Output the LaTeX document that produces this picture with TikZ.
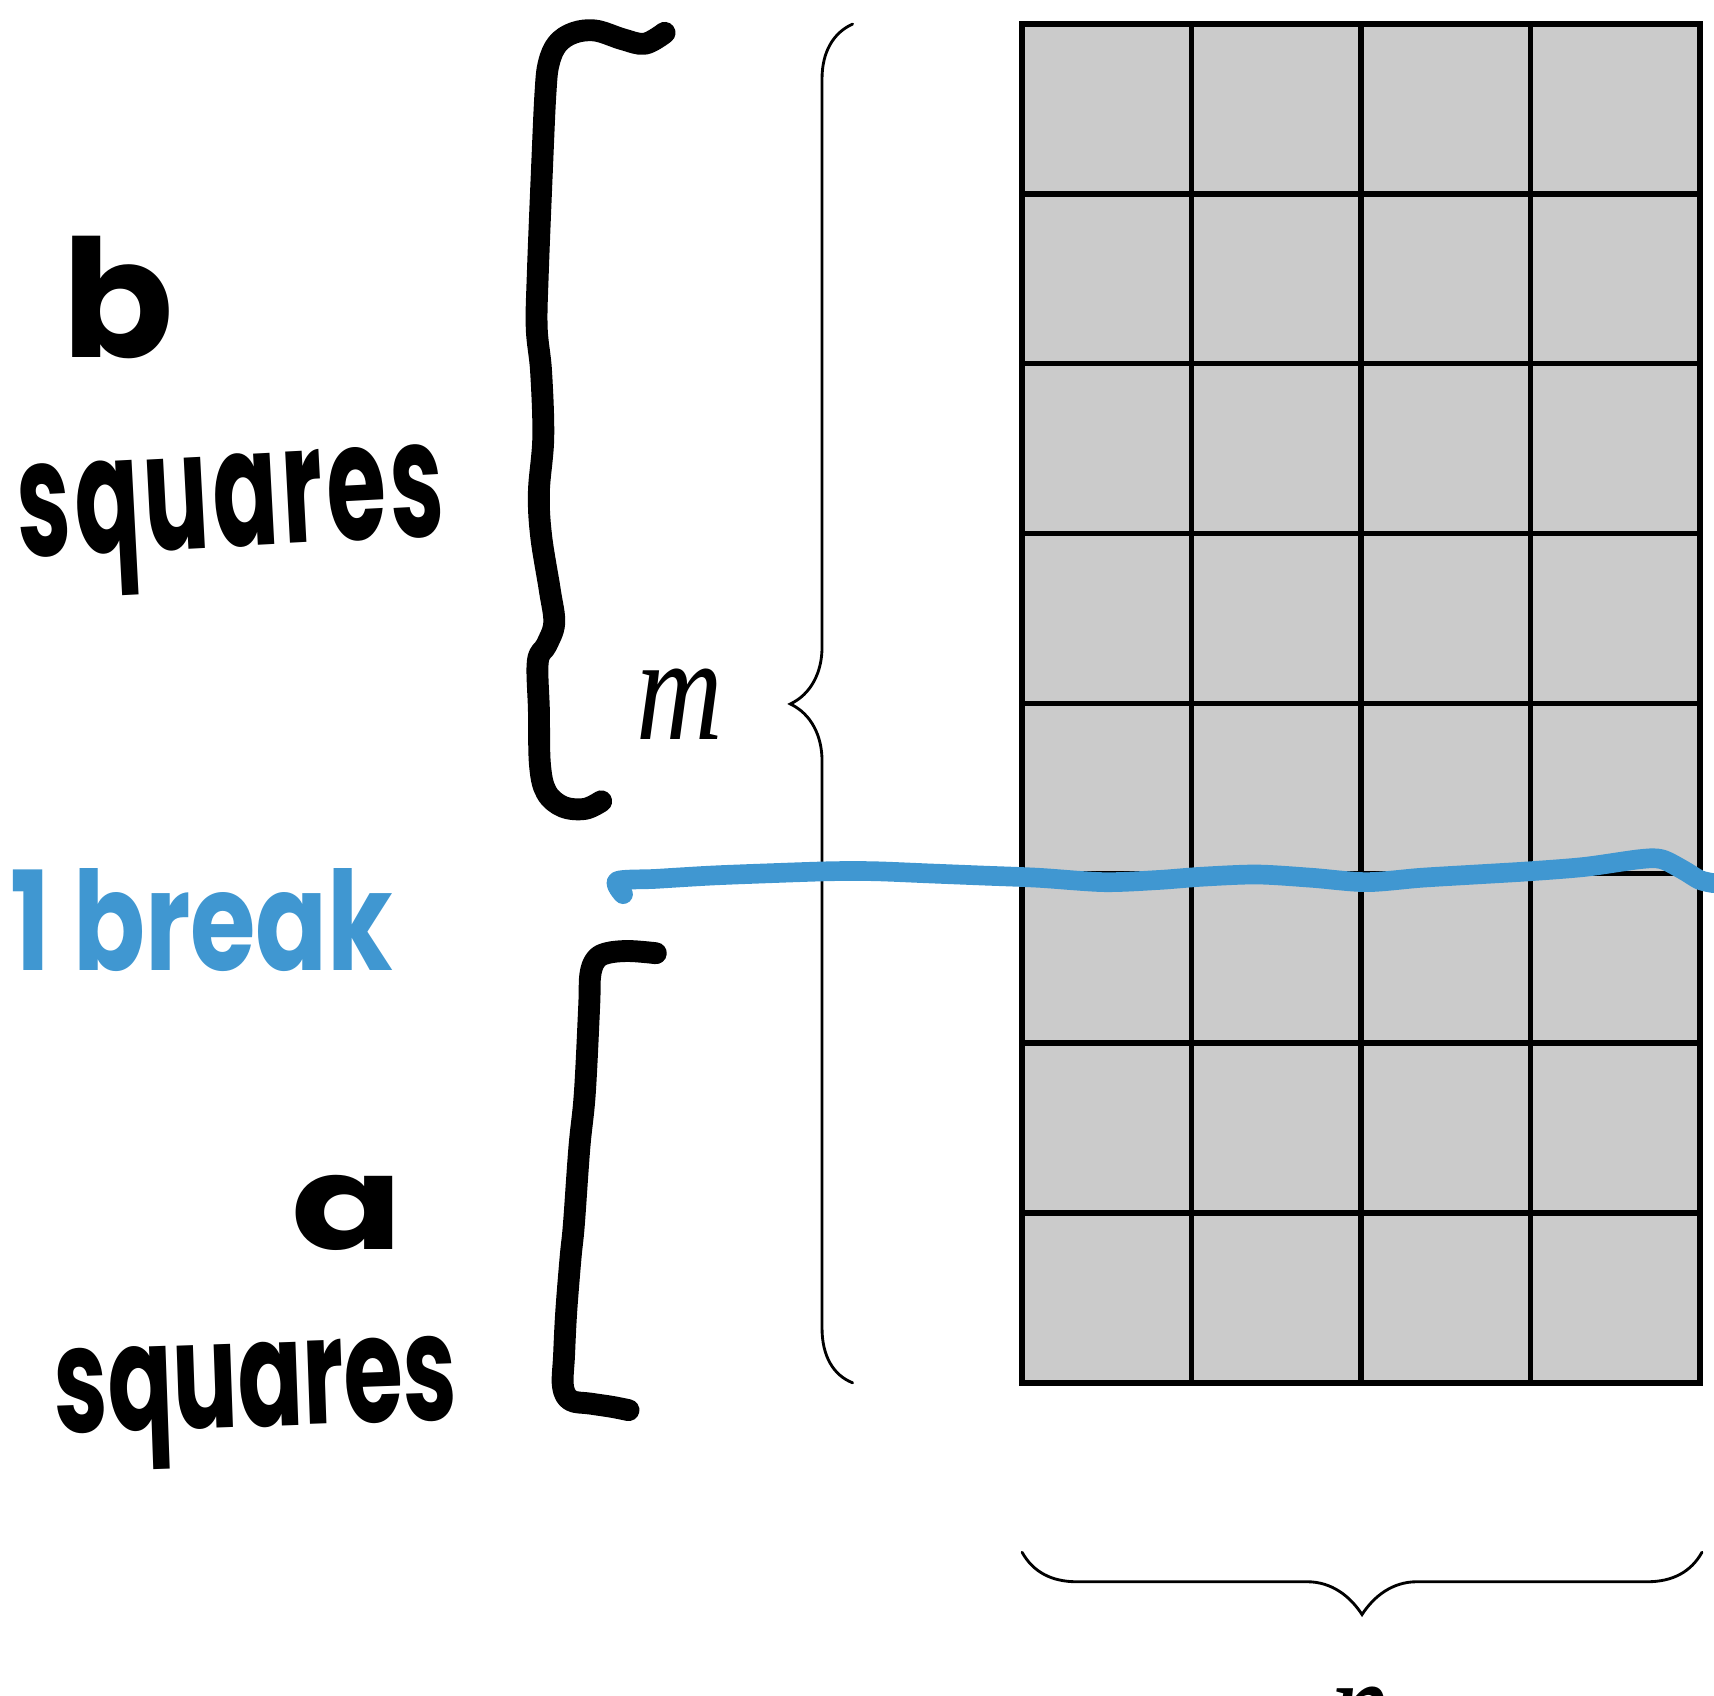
\documentclass[tikz,border=0pt]{standalone}
\usepackage{fontspec}
\newfontfamily\hand{Poppins}
\newfontfamily\varfont{Liberation Serif}
\definecolor{cellgray}{HTML}{CBCBCB}
\definecolor{penblue}{HTML}{4097D1}
\begin{document}
\begin{tikzpicture}[x=1pt,y=-1pt,
  gridline/.style={line width=5pt,black,line cap=rect},
  thinbrace/.style={line width=2.6pt,black,line cap=round},
  pen/.style={line width=20pt,line cap=round,line join=round},
  hw/.style={inner sep=0pt,font=\hand\bfseries},
  mathlbl/.style={inner sep=0pt,font=\varfont\itshape\fontsize{137}{137}\selectfont,xscale=0.8}]
\useasboundingbox (0,0) rectangle (1568,1551);
% grid
\fill[cellgray] (935,22) rectangle (1555,1265);
\foreach \i in {0,...,4} \draw[gridline] ({935+155*\i},22) -- ({935+155*\i},1265);
\foreach \j in {0,...,8} \draw[gridline] (935,{22+155.375*\j}) -- (1555,{22+155.375*\j});
% thin braces
\draw[thinbrace] (780,22) .. controls (762,30) and (752,48) .. (752,72) -- (752,592)
  .. controls (752,615) and (742,635) .. (723,644)
  .. controls (742,653) and (752,673) .. (752,696) -- (752,1215)
  .. controls (752,1240) and (762,1258) .. (780,1265);
\draw[thinbrace] (935,1420) .. controls (945,1438) and (962,1447) .. (985,1447) -- (1196,1447)
  .. controls (1218,1447) and (1235,1460) .. (1246,1477)
  .. controls (1257,1460) and (1274,1447) .. (1296,1447) -- (1507,1447)
  .. controls (1530,1447) and (1547,1438) .. (1557,1420);
\node[mathlbl,anchor=north] (m) at (622,612) {m};
\node[mathlbl,anchor=north] (n) at (1245,1543) {n};
% handwritten brackets
\draw[pen] plot[smooth,tension=0.6] coordinates {(608,30) (590,40) (570,36) (545,28) (525,30) (510,40) (502,58) (499,85) (496,150) (492,250) (491,300) (495,340) (497,400) (493,450) (495,490) (503,540) (507,570) (500,590) (492,605) (493,650) (494,700) (500,725) (515,738) (535,740) (550,733)};
\draw[pen] plot[smooth,tension=0.6] coordinates {(600,872) (575,870) (555,872) (545,878) (540,892) (539,920) (535,1000) (530,1050) (525,1120) (522,1150) (518,1200) (516,1240) (515,1268) (522,1281) (540,1284) (560,1287) (575,1290)};
% blue break line
\draw[pen,penblue,line width=18pt] plot[smooth,tension=0.5] coordinates {(570,818) (565,806) (600,804) (650,801) (700,799) (760,797) (800,797) (850,799) (900,801) (950,803) (1010,807) (1060,805) (1100,802) (1150,800) (1200,803) (1250,807) (1300,803) (1350,800) (1400,797) (1450,793) (1500,786) (1520,786) (1540,796) (1555,805) (1568,808)};
% handwritten labels
\node[hw,font=\hand\bfseries\fontsize{150}{150}\selectfont] (b) at (108,272) {b};
\node[hw,font=\hand\bfseries\fontsize{88}{88}\selectfont\addfontfeatures{LetterSpace=4},anchor=base,rotate=3,yscale=1.7] (sq1) at (213,500) {squares};
\node[hw,text=penblue,font=\hand\bfseries\fontsize{97}{97}\selectfont,anchor=base,yscale=1.3] (brk) at (185,888) {1 break};
\node[hw,font=\hand\bfseries\fontsize{120}{120}\selectfont,xscale=1.25] (a) at (318,1110) {a};
\node[hw,font=\hand\bfseries\fontsize{88}{88}\selectfont,anchor=base,rotate=2,yscale=1.55] (sq2) at (235,1305) {squares};
\end{tikzpicture}
\end{document}
